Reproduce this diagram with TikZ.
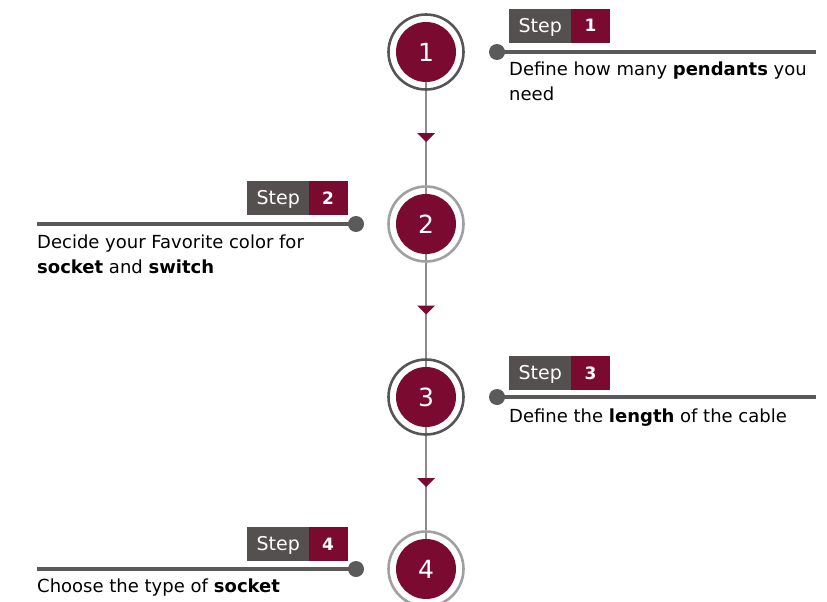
\documentclass[tikz,border=0pt]{standalone}
\usepackage{fontspec}
\setmainfont{DejaVu Sans}
\usetikzlibrary{calc}
\definecolor{maroon}{HTML}{7B0A30}
\definecolor{boxgray}{HTML}{555050}
\definecolor{linegray}{HTML}{5A5A5A}
\definecolor{vgray}{HTML}{8C8C8C}
\definecolor{ringdark}{HTML}{555555}
\definecolor{ringlight}{HTML}{A0A0A0}
\tikzset{
  ring/.style={circle, minimum size=75pt, line width=2.6pt, draw=#1, inner sep=0pt},
  core/.style={circle, fill=maroon, minimum size=60pt, inner sep=0pt, text=white, font=\fontsize{25}{25}\selectfont},
  dotnode/.style={circle, fill=linegray, minimum size=16pt, inner sep=0pt},
  hline/.style={draw=linegray, line width=4pt},
  vline/.style={draw=vgray, line width=2pt},
  stepbox/.style={fill=boxgray, text=white, minimum width=62pt, minimum height=34pt, inner sep=0pt, text height=13.9pt, text depth=0pt, font=\fontsize{19}{19}\selectfont},
  numbox/.style={fill=maroon, text=white, minimum width=39.6pt, minimum height=34pt, inner sep=0pt, text height=12.4pt, text depth=0pt, font=\fontsize{17}{17}\selectfont\bfseries},
  body/.style={anchor=base west, inner sep=0pt, font=\fontsize{18}{25}\selectfont},
  tri/.style={fill=maroon}
}
\begin{document}
\begin{tikzpicture}[x=1pt,y=-1pt]
\useasboundingbox (0,0) rectangle (827,602);
\coordinate (p1) at (426,52);
\coordinate (p2) at (426,224);
\coordinate (p3) at (426,397);
\coordinate (p4) at (426,569);
\draw[vline] (p1) -- (p4);
\foreach \a/\b in {p1/p2,p2/p3,p3/p4}
  \fill[tri] ($(\a)!0.5!(\b)$) ++(-9,-5) -- ++(18,0) -- ++(-9,9) -- cycle;
% circles
\node[ring=ringdark] (r1) at (p1) {};
\node[core] (c1) at (p1) {1};
\node[ring=ringlight] (r2) at (p2) {};
\node[core] (c2) at (p2) {2};
\node[ring=ringdark] (r3) at (p3) {};
\node[core] (c3) at (p3) {3};
\node[ring=ringlight] (r4) at (p4) {};
\node[core] (c4) at (p4) {4};
% leader lines
\coordinate (e1) at (816,52);
\coordinate (e2) at (37,224);
\coordinate (e3) at (816,397);
\coordinate (e4) at (37,569);
\coordinate (q1) at (497,52);
\coordinate (q2) at (356,224);
\coordinate (q3) at (497,397);
\coordinate (q4) at (356,569);
\draw[hline] (q1) -- (e1);
\draw[hline] (q2) -- (e2);
\draw[hline] (q3) -- (e3);
\draw[hline] (q4) -- (e4);
\node[dotnode] (d1) at (q1) {};
\node[dotnode] (d2) at (q2) {};
\node[dotnode] (d3) at (q3) {};
\node[dotnode] (d4) at (q4) {};
% step labels
\node[numbox, anchor=south west] (n1) at (570.6,43) {1};
\node[stepbox, anchor=south west] (s1) at (509,43) {Step};
\node[numbox, anchor=south east] (n2) at (348,215) {2};
\node[stepbox, anchor=south east] (s2) at (309.4,215) {Step};
\node[numbox, anchor=south west] (n3) at (570.6,390) {3};
\node[stepbox, anchor=south west] (s3) at (509,390) {Step};
\node[numbox, anchor=south east] (n4) at (348,561) {4};
\node[stepbox, anchor=south east] (s4) at (309.4,561) {Step};
% texts
\node[body] (t1) at (509,75) {Define how many \textbf{pendants} you};
\node[body] (t1b) at (509,100) {need};
\node[body] (t2) at (37,248) {Decide your Favorite color for};
\node[body] (t2b) at (37,273) {\textbf{socket} and \textbf{switch}};
\node[body] (t3) at (509,422) {Define the \textbf{length} of the cable};
\node[body] (t4) at (37,592) {Choose the type of \textbf{socket}};
\end{tikzpicture}
\end{document}
